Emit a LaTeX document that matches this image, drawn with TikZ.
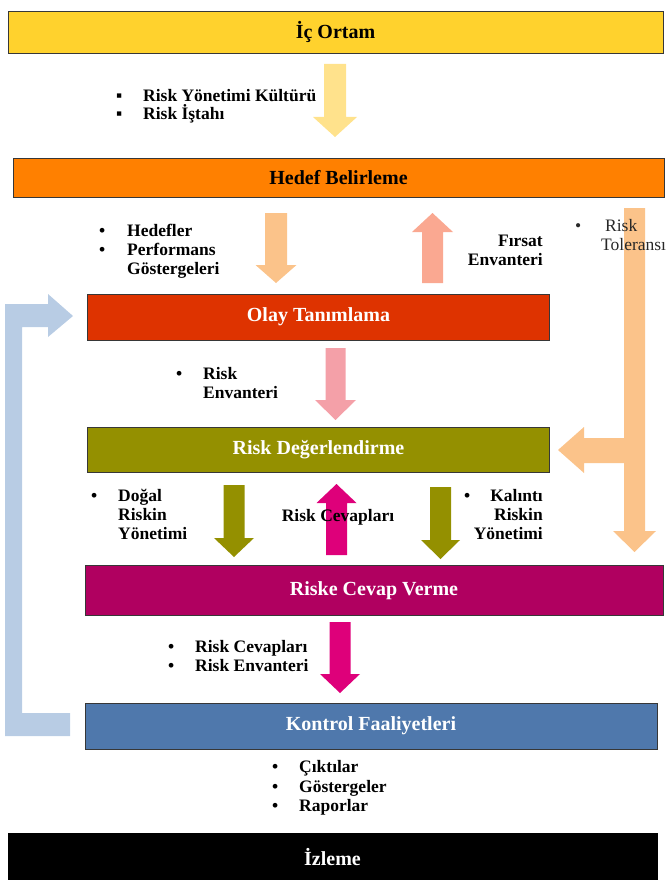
\documentclass[tikz,border=0pt]{standalone}
\usepackage{fontspec}
\setmainfont{Liberation Serif}

% colours
\definecolor{cYellow}{RGB}{255,210,45}
\definecolor{cOrange}{RGB}{255,128,0}
\definecolor{cRed}{RGB}{222,51,0}
\definecolor{cOlive}{RGB}{148,144,0}
\definecolor{cPlum}{RGB}{176,0,96}
\definecolor{cSteel}{RGB}{79,120,172}
\definecolor{cEdge}{RGB}{55,55,55}
\definecolor{aYellow}{RGB}{255,226,140}
\definecolor{aPeach}{RGB}{251,195,138}
\definecolor{aSalmon}{RGB}{250,168,145}
\definecolor{aPink}{RGB}{244,160,168}
\definecolor{aMagenta}{RGB}{222,0,122}
\definecolor{aBlue}{RGB}{184,204,228}
\definecolor{tGray}{RGB}{40,40,40}

% vertical block arrow: centre x, base y, head-start y, tip y, shaft half width, head half width, colour
\newcommand\vblock[7]{%
  \fill[#7] (#1-#5,#2) -- (#1+#5,#2) -- (#1+#5,#3) -- (#1+#6,#3) -- (#1,#4)
    -- (#1-#6,#3) -- (#1-#5,#3) -- cycle;}

\begin{document}
\begin{tikzpicture}[x=1pt,y=-1pt,
  box/.style={draw=cEdge, line width=0.8pt, inner sep=0,
    font=\fontsize{20}{23}\selectfont\bfseries},
  lbl/.style={inner sep=0, anchor=base west, font=\fontsize{17.5}{19}\selectfont\bfseries},
  lblr/.style={lbl, anchor=base east},
  lblc/.style={lbl, anchor=base},
  plain/.style={inner sep=0, anchor=base west, font=\fontsize{17.5}{19}\selectfont, text=tGray},
]
\useasboundingbox (0,0) rectangle (668,880);

% ---- block arrows ----
\vblock{335}{64}{117}{137}{11}{22}{aYellow}
\vblock{276}{213}{265}{283}{11}{20.5}{aPeach}
\vblock{432.5}{283}{232}{213}{10.5}{20.5}{aSalmon}
\vblock{335.5}{348}{400}{420}{10}{20.5}{aPink}
\vblock{234}{485}{538}{557}{10.5}{20}{cOlive}
\vblock{336.5}{555}{503}{484}{10.5}{20}{aMagenta}
\vblock{440.5}{487}{540}{559}{10.5}{19.5}{cOlive}
\vblock{340}{622}{674}{693}{10.5}{20}{aMagenta}

% risk tolerance arrow with its branch to the left
\fill[aPeach] (624,208) -- (645,208) -- (645,531) -- (656,531) -- (634.5,552)
  -- (613,531) -- (624,531) -- (624,463) -- (584,463) -- (584,473) -- (558,450)
  -- (584,427) -- (584,438) -- (624,438) -- cycle;

% feedback arrow from control activities back to event identification
\fill[aBlue] (5,736) -- (70,736) -- (70,713) -- (22,713) -- (22,327) -- (48,327)
  -- (48,337) -- (73,316) -- (48,294) -- (48,304) -- (5,304) -- cycle;

% ---- stage boxes ----
\node[box, fill=cYellow, minimum width=655pt, minimum height=42pt] (ic) at (335.5,32) {İç Ortam};
\node[box, fill=cOrange, minimum width=651pt, minimum height=39pt] (hedef) at (338.5,177.5) {Hedef Belirleme};
\node[box, fill=cRed, text=white, minimum width=462pt, minimum height=46pt] (olay) at (318.5,317) {Olay Tanımlama};
\node[box, fill=cOlive, text=white, minimum width=462pt, minimum height=45pt] (deger) at (318.5,450) {Risk Değerlendirme};
\node[box, fill=cPlum, text=white, minimum width=578pt, minimum height=50pt] (cevap) at (374,590.5) {Riske Cevap Verme};
\node[box, fill=cSteel, text=white, minimum width=572pt, minimum height=46pt] (kontrol) at (371,726) {Kontrol Faaliyetleri};
\node[box, draw=black, fill=black, text=white, minimum width=649pt, minimum height=48pt] (izleme) at (332.5,857) {İzleme};

% ---- labels ----
\node[lbl] (b1) at (116,102) {▪};
\node[lbl] (t1) at (143,102) {Risk Yönetimi Kültürü};
\node[lbl] (b2) at (116,120) {▪};
\node[lbl] (t2) at (143,120) {Risk İştahı};

\node[lbl] (b3) at (99,236) {•};
\node[lbl] (t3) at (127,236) {Hedefler};
\node[lbl] (b4) at (99,255) {•};
\node[lbl] (t4) at (127,255) {Performans};
\node[lbl] (t5) at (127,274) {Göstergeleri};

\node[lblr] (t6) at (543,246) {Fırsat};
\node[lblr] (t7) at (543,265) {Envanteri};

\node[plain] (b8) at (575,231) {•};
\node[plain] (t8) at (605,231) {Risk};
\node[plain] (t9) at (601,250) {Toleransı};

\node[lbl] (b10) at (176,379) {•};
\node[lbl] (t10) at (203,379) {Risk};
\node[lbl] (t11) at (203,398) {Envanteri};

\node[lbl] (b12) at (91,501) {•};
\node[lbl] (t12) at (118,501) {Doğal};
\node[lbl] (t13) at (118,520) {Riskin};
\node[lbl] (t14) at (118,539) {Yönetimi};

\node[lblc] (t15) at (338,521) {Risk Cevapları};

\node[lbl] (b16) at (464,501) {•};
\node[lblr] (t16) at (543,501) {Kalıntı};
\node[lblr] (t17) at (543,520) {Riskin};
\node[lblr] (t18) at (543,539) {Yönetimi};

\node[lbl] (b19) at (168,652) {•};
\node[lbl] (t19) at (195,652) {Risk Cevapları};
\node[lbl] (b20) at (168,671) {•};
\node[lbl] (t20) at (195,671) {Risk Envanteri};

\node[lbl] (b21) at (272,772) {•};
\node[lbl] (t21) at (299,772) {Çıktılar};
\node[lbl] (b22) at (272,792) {•};
\node[lbl] (t22) at (299,792) {Göstergeler};
\node[lbl] (b23) at (272,811) {•};
\node[lbl] (t23) at (299,811) {Raporlar};
\end{tikzpicture}
\end{document}
